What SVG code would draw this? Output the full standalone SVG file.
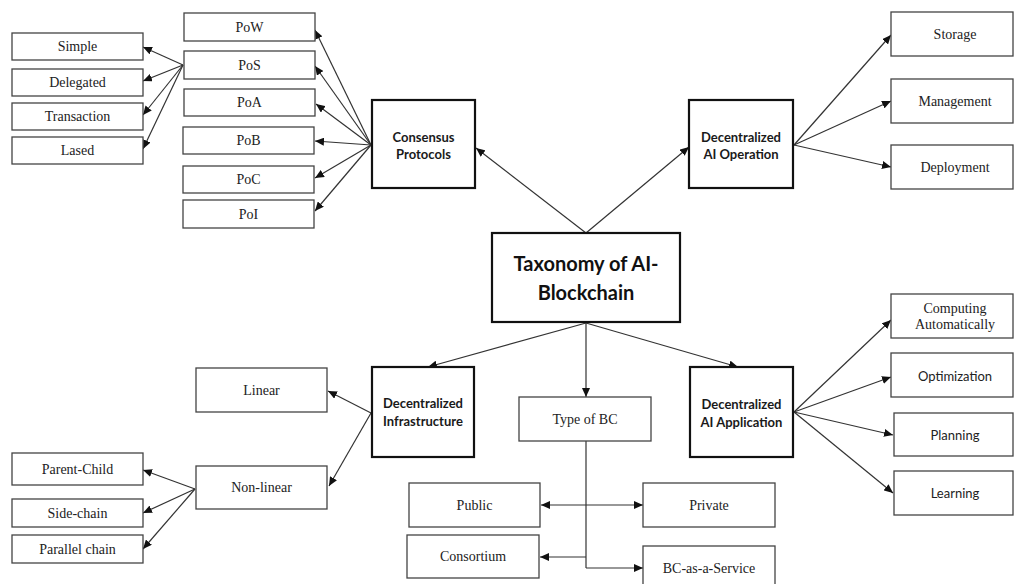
<svg xmlns="http://www.w3.org/2000/svg" width="1014" height="584" viewBox="0 0 1014 584">
<style>
.leaf{fill:#fff;stroke:#444;stroke-width:1.3}
.main{fill:#fff;stroke:#111;stroke-width:2.2}
.tr{font-family:'Liberation Serif','Times New Roman','DejaVu Serif',serif;font-size:14px;fill:#222;text-anchor:middle;dominant-baseline:central}
.ts{font-family:Lato,'Liberation Sans',sans-serif;font-size:13px;fill:#222;text-anchor:middle;dominant-baseline:central}
.tb{font-family:Lato,'Liberation Sans',sans-serif;font-size:13px;font-weight:bold;fill:#1a1a1a;text-anchor:middle;dominant-baseline:central}
.tt{font-family:Lato,'Liberation Sans',sans-serif;font-size:20px;font-weight:bold;fill:#111;text-anchor:middle;dominant-baseline:central}
.c{fill:none;stroke:#333;stroke-width:1.2}
</style>
<defs>
<marker id="a" markerUnits="userSpaceOnUse" markerWidth="10" markerHeight="8" viewBox="0 0 10 8" refX="9" refY="4" orient="auto-start-reverse">
<path d="M0,0 L9,4 L0,8 z" fill="#111"/>
</marker>
</defs>
<g id="connectors">
<path class="c" marker-end="url(#a)" d="M586,233 L476,148"/>
<path class="c" marker-end="url(#a)" d="M586,233 L689,147"/>
<path class="c" marker-end="url(#a)" d="M371,145 L315,30"/>
<path class="c" marker-end="url(#a)" d="M371,145 L315,66"/>
<path class="c" marker-end="url(#a)" d="M371,145 L316,104"/>
<path class="c" marker-end="url(#a)" d="M371,145 L315,141"/>
<path class="c" marker-end="url(#a)" d="M371,145 L315,178"/>
<path class="c" marker-end="url(#a)" d="M371,145 L315,211"/>
<path class="c" marker-end="url(#a)" d="M183,65 L143,47"/>
<path class="c" marker-end="url(#a)" d="M183,65 L143,81"/>
<path class="c" marker-end="url(#a)" d="M183,65 L143,115"/>
<path class="c" marker-end="url(#a)" d="M183,65 L143,149"/>
<path class="c" marker-end="url(#a)" d="M794,145 L891,35"/>
<path class="c" marker-end="url(#a)" d="M794,145 L891,101"/>
<path class="c" marker-end="url(#a)" d="M794,145 L891,167"/>
<path class="c" marker-end="url(#a)" d="M586,323 L428,367"/>
<path class="c" marker-end="url(#a)" d="M586,323 L586,397"/>
<path class="c" marker-end="url(#a)" d="M586,323 L738,367"/>
<path class="c" marker-end="url(#a)" d="M371,413 L328,391"/>
<path class="c" marker-end="url(#a)" d="M371,413 L329,486"/>
<path class="c" marker-end="url(#a)" d="M195,489 L143,470"/>
<path class="c" marker-end="url(#a)" d="M195,489 L143,513"/>
<path class="c" marker-end="url(#a)" d="M195,489 L143,549"/>
<path class="c" marker-end="url(#a)" d="M794,412 L891,320"/>
<path class="c" marker-end="url(#a)" d="M794,412 L891,377"/>
<path class="c" marker-end="url(#a)" d="M794,412 L893,435"/>
<path class="c" marker-end="url(#a)" d="M794,412 L893,493"/>
<path class="c" d="M586,441 L586,568"/>
<path class="c" marker-start="url(#a)" marker-end="url(#a)" d="M541,505 L643,505"/>
<path class="c" marker-end="url(#a)" d="M586,557 L540,557"/>
<path class="c" marker-end="url(#a)" d="M586,568 L643,568"/>
</g>
<g id="taxonomy"><rect class="main" x="492" y="233" width="188" height="89"/><text class="tt" x="586" y="263">Taxonomy of AI-</text><text class="tt" x="586" y="292">Blockchain</text></g>
<g id="consensus"><rect class="main" x="372" y="100" width="103" height="88"/><text class="tb" x="423.5" y="137">Consensus</text><text class="tb" x="423.5" y="154">Protocols</text></g>
<g id="ai-operation"><rect class="main" x="689" y="100" width="104" height="88"/><text class="tb" x="741" y="137">Decentralized</text><text class="tb" x="741" y="154">AI Operation</text></g>
<g id="infrastructure"><rect class="main" x="372" y="367" width="102" height="90"/><text class="tb" x="423" y="403">Decentralized</text><text class="tb" x="423" y="421">Infrastructure</text></g>
<g id="ai-application"><rect class="main" x="690" y="367" width="103" height="90"/><text class="tb" x="741.5" y="404">Decentralized</text><text class="tb" x="741.5" y="422">AI Application</text></g>
<g id="pow"><rect class="leaf" x="184" y="13" width="131" height="28"/><text class="tr" x="249.5" y="27">PoW</text></g>
<g id="pos"><rect class="leaf" x="184" y="51" width="131" height="28"/><text class="tr" x="249.5" y="65">PoS</text></g>
<g id="poa"><rect class="leaf" x="184" y="89" width="131" height="27"/><text class="tr" x="249.5" y="102.5">PoA</text></g>
<g id="pob"><rect class="leaf" x="183" y="127" width="131" height="27"/><text class="tr" x="248.5" y="140.5">PoB</text></g>
<g id="poc"><rect class="leaf" x="183" y="166" width="131" height="27"/><text class="tr" x="248.5" y="179.5">PoC</text></g>
<g id="poi"><rect class="leaf" x="183" y="200" width="131" height="28"/><text class="tr" x="248.5" y="214">PoI</text></g>
<g id="simple"><rect class="leaf" x="12" y="33" width="131" height="27"/><text class="tr" x="77.5" y="46.5">Simple</text></g>
<g id="delegated"><rect class="leaf" x="12" y="69" width="131" height="27"/><text class="tr" x="77.5" y="82.5">Delegated</text></g>
<g id="transaction"><rect class="leaf" x="12" y="103" width="131" height="27"/><text class="tr" x="77.5" y="116.5">Transaction</text></g>
<g id="lased"><rect class="leaf" x="12" y="137" width="131" height="27"/><text class="tr" x="77.5" y="150.5">Lased</text></g>
<g id="storage"><rect class="leaf" x="891" y="12" width="122" height="44"/><text class="tr" x="955" y="34">Storage</text></g>
<g id="management"><rect class="leaf" x="891" y="79" width="122" height="44"/><text class="tr" x="955" y="101">Management</text></g>
<g id="deployment"><rect class="leaf" x="891" y="145" width="122" height="44"/><text class="tr" x="955" y="167">Deployment</text></g>
<g id="linear"><rect class="leaf" x="196" y="368" width="131" height="44"/><text class="tr" x="261.5" y="390">Linear</text></g>
<g id="non-linear"><rect class="leaf" x="196" y="466" width="131" height="43"/><text class="tr" x="261.5" y="487.5">Non-linear</text></g>
<g id="parent-child"><rect class="leaf" x="12" y="453" width="131" height="32"/><text class="tr" x="77.5" y="469">Parent-Child</text></g>
<g id="side-chain"><rect class="leaf" x="12" y="499" width="131" height="28"/><text class="tr" x="77.5" y="513">Side-chain</text></g>
<g id="parallel-chain"><rect class="leaf" x="12" y="535" width="131" height="28"/><text class="tr" x="77.5" y="549">Parallel chain</text></g>
<g id="type-of-bc"><rect class="leaf" x="519" y="397" width="132" height="44"/><text class="tr" x="585" y="419">Type of BC</text></g>
<g id="public"><rect class="leaf" x="409" y="483" width="131" height="44"/><text class="tr" x="474.5" y="505">Public</text></g>
<g id="private"><rect class="leaf" x="643" y="483" width="132" height="44"/><text class="tr" x="709" y="505">Private</text></g>
<g id="consortium"><rect class="leaf" x="407" y="535" width="132" height="43"/><text class="tr" x="473" y="556.5">Consortium</text></g>
<g id="bc-as-a-service"><rect class="leaf" x="643" y="546" width="132" height="44"/><text class="tr" x="709" y="568">BC-as-a-Service</text></g>
<g id="computing"><rect class="leaf" x="891" y="294" width="122" height="44"/><text class="tr" x="955" y="308">Computing</text><text class="tr" x="955" y="324">Automatically</text></g>
<g id="optimization"><rect class="leaf" x="891" y="353" width="122" height="44"/><text class="ts" x="955" y="376">Optimization</text></g>
<g id="planning"><rect class="leaf" x="894" y="413" width="119" height="43"/><text class="ts" x="955" y="434.5">Planning</text></g>
<g id="learning"><rect class="leaf" x="894" y="471" width="119" height="44"/><text class="ts" x="955" y="493">Learning</text></g>
</svg>
